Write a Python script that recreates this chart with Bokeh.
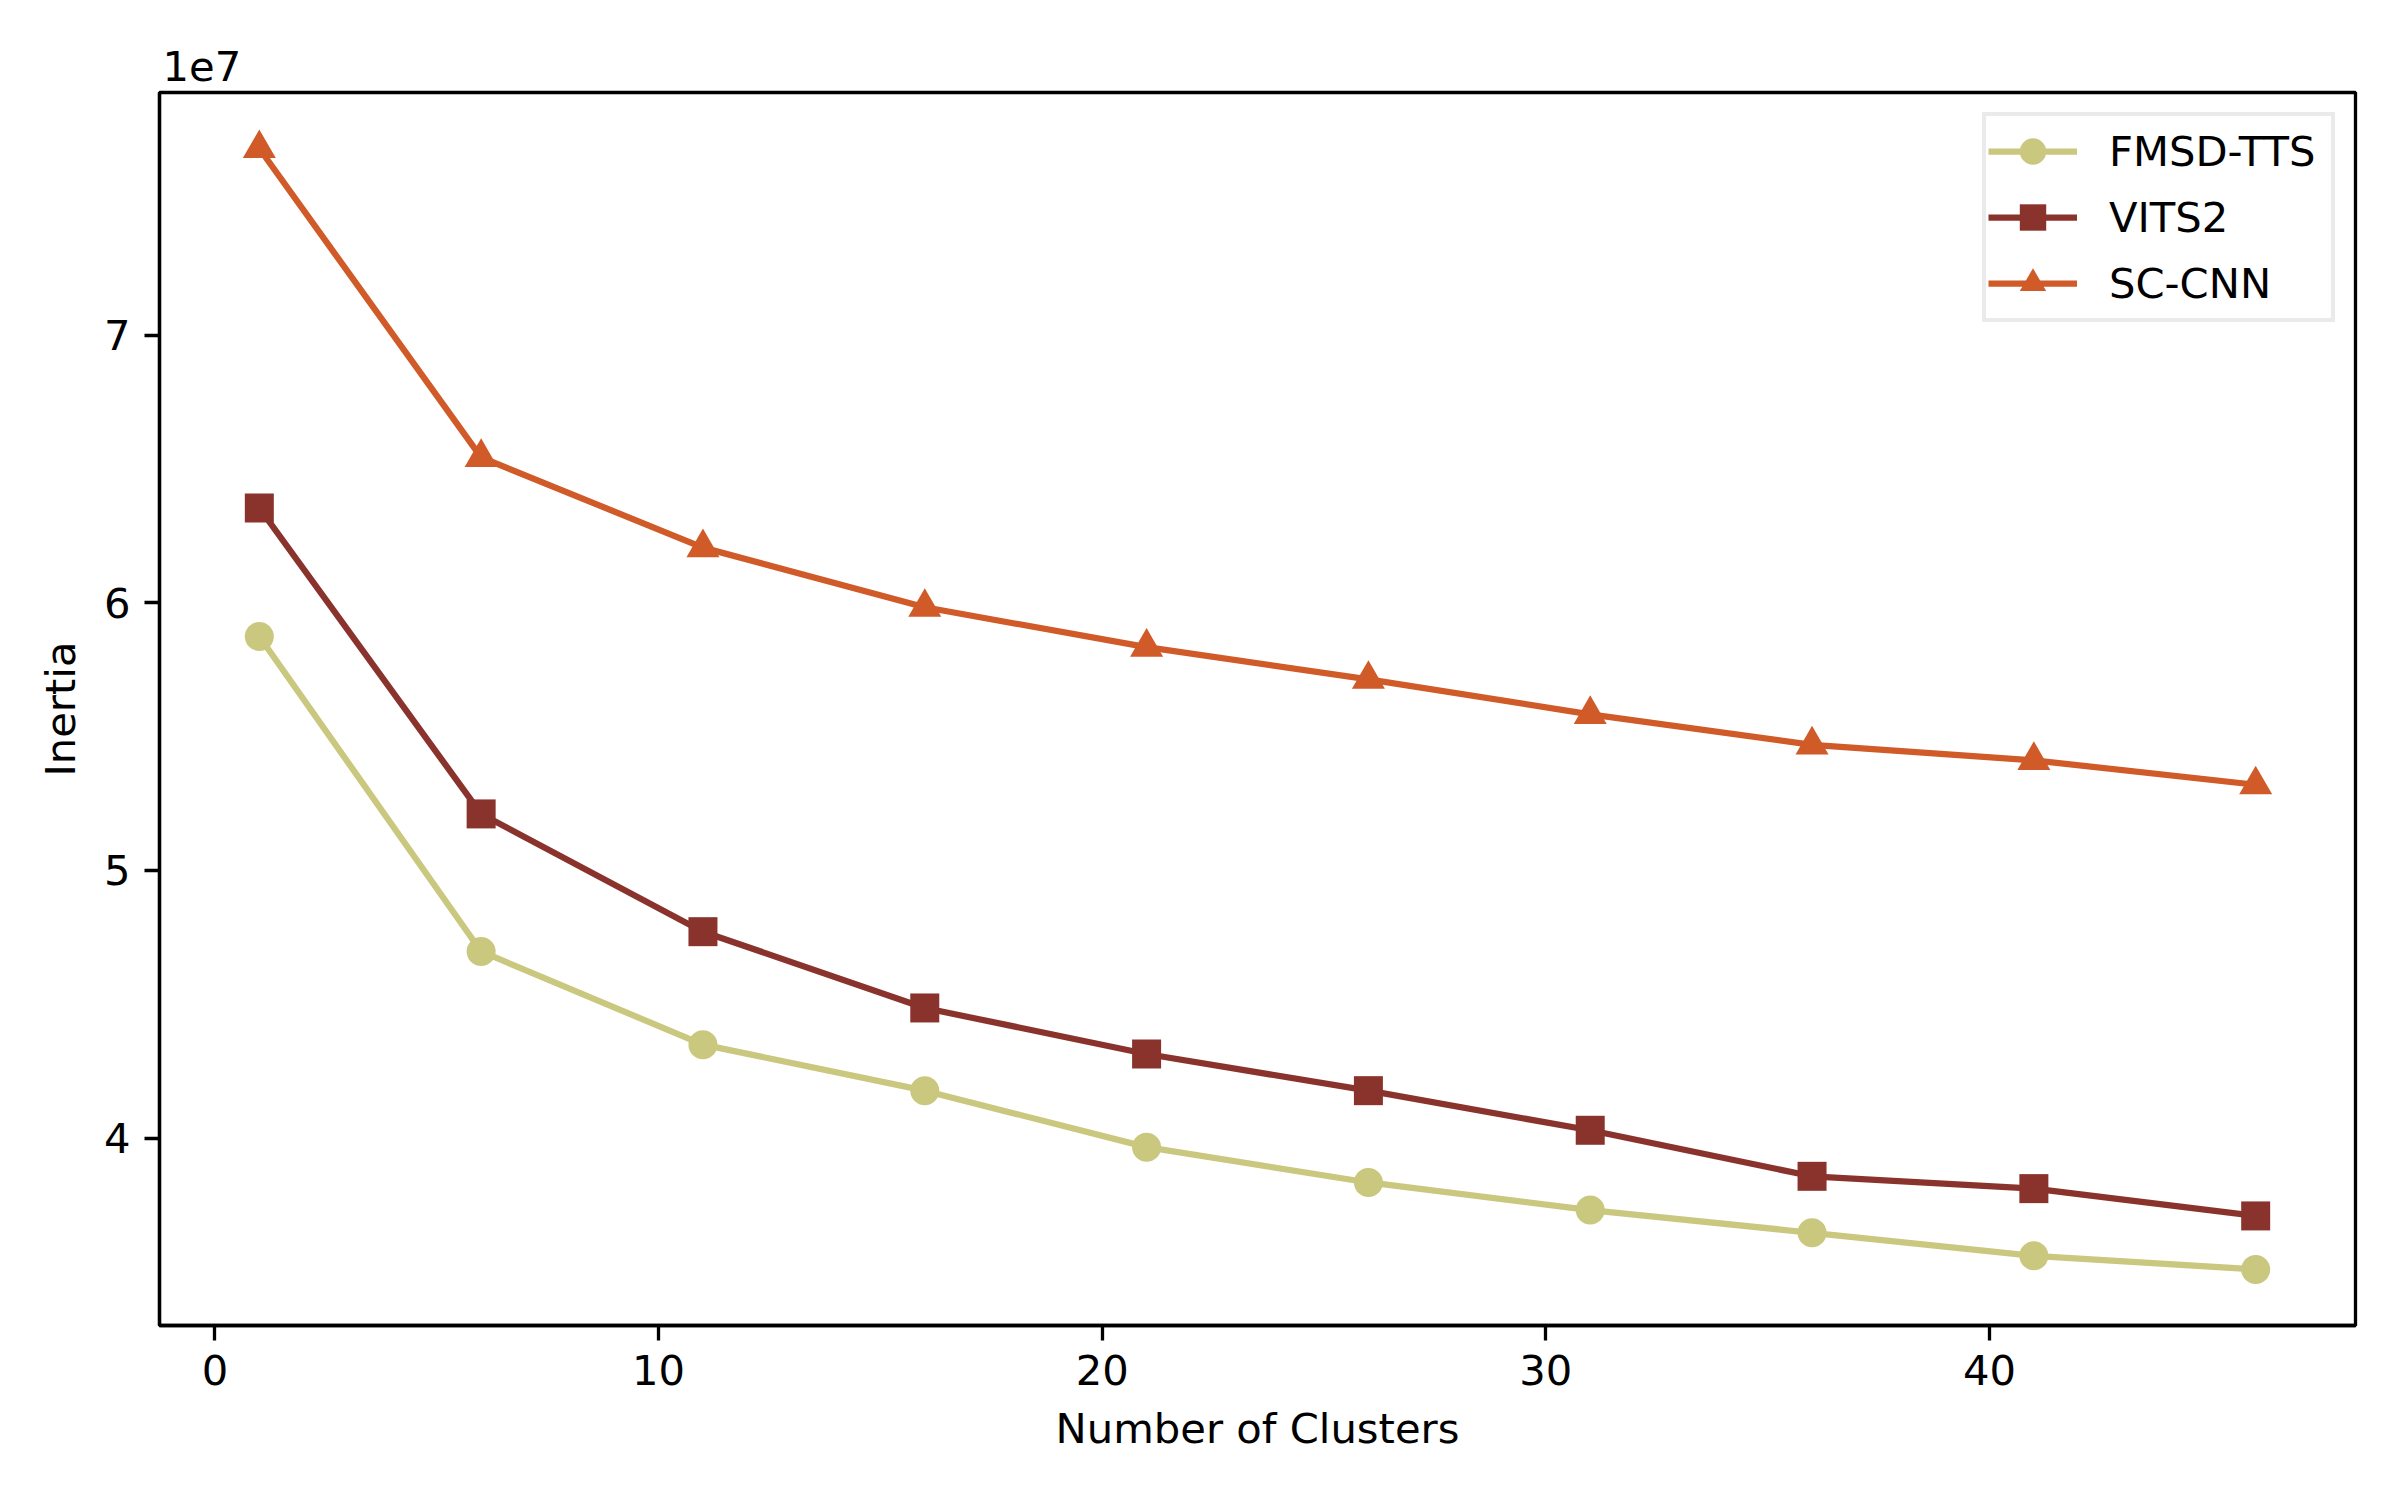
from bokeh.plotting import figure
from bokeh.models import Range1d, FixedTicker, CustomJSTickFormatter, Title
from bokeh.embed import file_html
from bokeh.resources import INLINE

clusters = [1, 6, 11, 16, 21, 26, 31, 36, 41, 46]
fmsd_tts = [5.874e7, 4.697e7, 4.349e7, 4.177e7, 3.966e7, 3.834e7, 3.731e7, 3.646e7, 3.560e7, 3.509e7]
vits2 = [6.354e7, 5.211e7, 4.771e7, 4.486e7, 4.314e7, 4.177e7, 4.029e7, 3.857e7, 3.811e7, 3.709e7]
sc_cnn = [7.697e7, 6.543e7, 6.206e7, 5.983e7, 5.834e7, 5.714e7, 5.583e7, 5.469e7, 5.411e7, 5.320e7]
x_ticks = [0, 10, 20, 30, 40]
y_ticks = [4e7, 5e7, 6e7, 7e7]

series = [
    ("FMSD-TTS", fmsd_tts, "#CAC77F", "circle", 29),
    ("VITS2", vits2, "#8A332D", "square", 29),
    ("SC-CNN", sc_cnn, "#D05A28", "triangle", 33),
]

FONT = "DejaVu Sans"
FS = "41.7px"

xmin, xmax = min(clusters), max(clusters)
xpad = (xmax - xmin) * 0.05
all_y = fmsd_tts + vits2 + sc_cnn
ymin, ymax = min(all_y), max(all_y)
ypad = (ymax - ymin) * 0.05

p = figure(width=2384, height=1484, output_backend="svg", toolbar_location=None,
           x_range=Range1d(xmin - xpad, xmax + xpad),
           y_range=Range1d(ymin - ypad, ymax + ypad),
           min_border_left=159, min_border_right=29, min_border_top=92, min_border_bottom=159)

p.title = Title(text="1e7", align="left", offset=3, standoff=24,
                text_font=FONT, text_font_size=FS, text_font_style="normal", text_color="black")

p.xgrid.visible = False
p.ygrid.visible = False
p.background_fill_color = "white"
p.border_fill_color = "white"
p.outline_line_color = "black"
p.outline_line_width = 3.3

for name, ys, color, marker, size in series:
    p.line(clusters, ys, line_color=color, line_width=6.25, legend_label=name)
    p.scatter(clusters, ys, marker=marker, size=size, fill_color=color, line_color=color,
              line_width=0, legend_label=name)

for ax in (p.xaxis[0], p.yaxis[0]):
    ax.axis_line_width = 3.3
    ax.axis_line_color = "black"
    ax.major_tick_line_width = 3.3
    ax.major_tick_line_color = "black"
    ax.major_tick_out = 15
    ax.major_tick_in = 0
    ax.minor_tick_line_color = None
    ax.major_label_text_font = FONT
    ax.major_label_text_font_size = FS
    ax.major_label_text_color = "black"
    ax.axis_label_text_font = FONT
    ax.axis_label_text_font_size = FS
    ax.axis_label_text_font_style = "normal"
    ax.axis_label_text_color = "black"
    ax.major_label_standoff = 14
    ax.axis_label_standoff = 16

p.xaxis[0].ticker = FixedTicker(ticks=x_ticks)
p.yaxis[0].ticker = FixedTicker(ticks=y_ticks)
p.yaxis[0].formatter = CustomJSTickFormatter(code="return (tick / 1e7).toFixed(0);")
p.xaxis[0].axis_label = "Number of Clusters"
p.yaxis[0].axis_label = "Inertia"

lg = p.legend[0]
lg.location = "top_right"
lg.margin = 20
lg.padding = 2
lg.spacing = 0
lg.glyph_width = 89
lg.glyph_height = 66
lg.label_height = 66
lg.label_standoff = 32
lg.label_width = 220
lg.label_text_font = FONT
lg.label_text_font_size = FS
lg.label_text_color = "black"
lg.border_line_color = "#d6d6d6"
lg.border_line_width = 4
lg.background_fill_color = "white"
lg.background_fill_alpha = 0.8

open("out.html", "w").write(file_html(p, INLINE))
